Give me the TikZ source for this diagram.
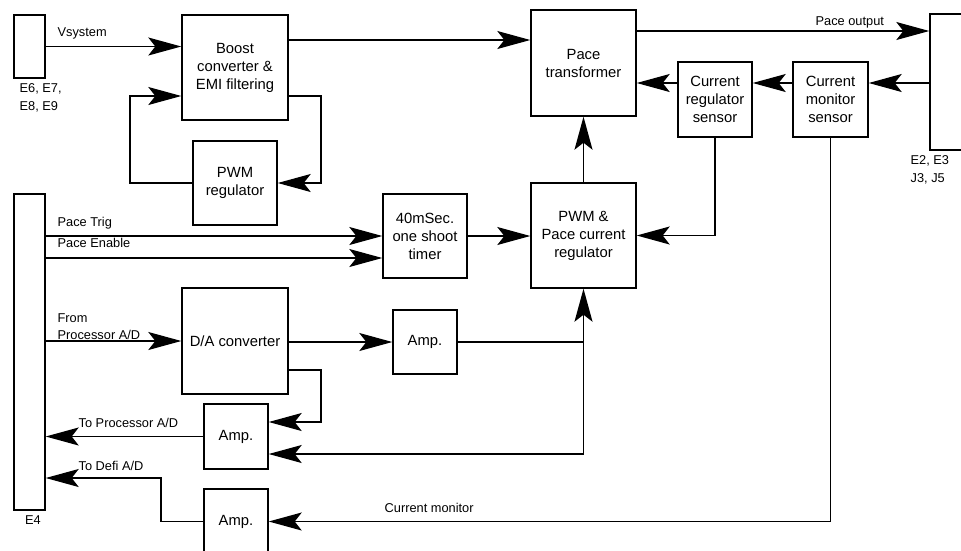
\documentclass[tikz,border=0pt]{standalone}
\usepackage{fontspec}
\setmainfont{Liberation Sans}
\usetikzlibrary{arrows.meta}
\begin{document}
\begin{tikzpicture}[x=1pt,y=-1pt,line width=1.3pt,
  >={Stealth[length=33pt,width=18pt,inset=7pt]},
  block/.style={draw,line width=1.4pt,inner sep=0pt,align=center,
    font=\fontsize{14.8}{18}\selectfont},
  lbl/.style={inner sep=0pt,anchor=west,align=left,
    font=\fontsize{12.8}{17.5}\selectfont}]
\useasboundingbox (0,0) rectangle (961,550);
\clip (0,0) rectangle (961,550);

% connectors (terminal strips)
\node[block,minimum width=31pt,minimum height=63pt]  (e6) at (29.5,46.5) {};
\node[block,minimum width=31pt,minimum height=316pt] (e4) at (29.5,352) {};
\node[block,minimum width=46pt,minimum height=136pt] (e2) at (953,82) {};

% function blocks
\node[block,minimum width=106pt,minimum height=105pt] (boost) at (235,67.5) {Boost\\converter \&\\EMI filtering};
\node[block,minimum width=84pt,minimum height=84pt] (pwmreg) at (235,183) {PWM\\regulator};
\node[block,minimum width=105pt,minimum height=106pt] (pacetr) at (583.5,63) {Pace\\transformer};
\node[block,minimum width=74pt,minimum height=75pt] (crs) at (715,99.5) {Current\\regulator\\sensor};
\node[block,minimum width=75pt,minimum height=75pt] (cms) at (830.5,99.5) {Current\\monitor\\sensor};
\node[block,minimum width=84pt,minimum height=84pt] (timer) at (425,236) {40mSec.\\one shoot\\timer};
\node[block,minimum width=105pt,minimum height=105pt] (pwmpace) at (583.5,235.5) {PWM \&\\Pace current\\regulator};
\node[block,minimum width=106pt,minimum height=106pt] (da) at (235,341) {D/A converter};
\node[block,minimum width=64pt,minimum height=64pt] (amp1) at (425,342) {Amp.};
\node[block,minimum width=64pt,minimum height=65pt] (amp2) at (236,436.5) {Amp.};
\node[block,minimum width=64pt,minimum height=65pt] (amp3) at (236,521.5) {Amp.};

% pin and signal labels
\node[lbl] (le6) at (19,98) {E6, E7,\\E8, E9};
\node[lbl] (le2) at (910,170) {E2, E3\\J3, J5};
\node[lbl,anchor=center] (le4) at (33,520) {E4};
\node[lbl] (lvs) at (57,33) {Vsystem};
\node[lbl] (lpo) at (815,22) {Pace output};
\node[lbl] (lpt) at (57,223) {Pace Trig};
\node[lbl] (lpe) at (57,243) {Pace Enable};
\node[lbl] (lfp) at (57,326.5) {From\\Processor A/D};
\node[lbl] (ltp) at (78,423) {To Processor A/D};
\node[lbl] (ltd) at (78,466) {To Defi A/D};
\node[lbl] (lcm) at (384,508) {Current monitor};

% supply path
\draw[->] (e6.east) -- (e6.east -| boost.west);
\draw[->] (boost.east |- 0,40) -- (pacetr.west |- 0,40);
\draw[->] (boost.east |- 0,96) -- (321,96) -- (321,183) -- (pwmreg.east);
\draw[->] (pwmreg.west) -- (130,183) -- (130,96) -- (boost.west |- 0,96);

% output and current sensing
\draw[->] (pacetr.east |- 0,31) -- (e2.west |- 0,31);
\draw[->] (e2.west |- 0,83) -- (cms.east |- 0,83);
\draw[->] (cms.west |- 0,83) -- (crs.east |- 0,83);
\draw[->] (crs.west |- 0,83) -- (pacetr.east |- 0,83);
\draw[->] (pwmpace.north) -- (pacetr.south);
\draw[->] (crs.south) -- (crs.south |- pwmpace.east) -- (pwmpace.east);
\draw[->] (cms.south) -- (cms.south |- amp3.east) -- (amp3.east);

% control inputs
\draw[->] (e4.east |- 0,236) -- (timer.west |- 0,236);
\draw[->] (e4.east |- 0,258) -- (timer.west |- 0,258);
\draw[->] (timer.east) -- (timer.east -| pwmpace.west);
\draw[->] (e4.east |- da.west) -- (da.west);
\draw[->] (da.east |- amp1.west) -- (amp1.west);
\draw (amp1.east) -- (amp1.east -| pwmpace.south);
\draw[->] (pwmpace.south |- 0,454) -- (pwmpace.south);
\draw[->] (pwmpace.south |- 0,454) -- (amp2.east |- 0,454);
\draw[->] (da.east |- 0,370) -- (321,370) -- (321,422) -- (amp2.east |- 0,422);

% monitor outputs
\draw[->] (amp2.west) -- (amp2.west -| e4.east);
\draw[->] (amp3.west) -- (161,521.5) -- (161,478) -- (e4.east |- 0,478);
\end{tikzpicture}
\end{document}
